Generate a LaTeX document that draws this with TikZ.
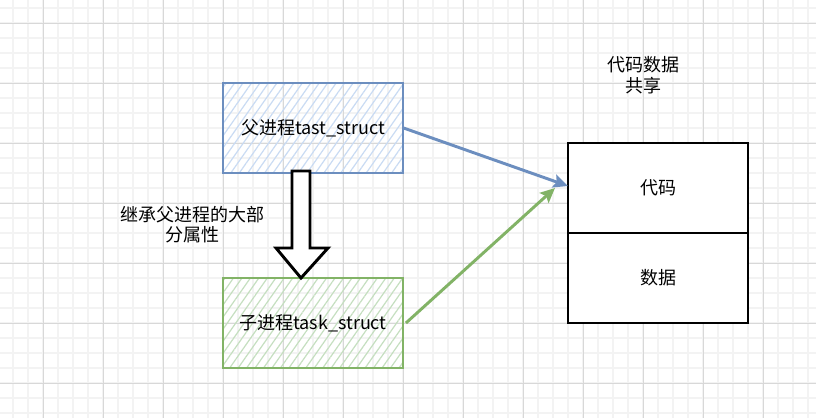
\documentclass[tikz,border=0pt]{standalone}
\usepackage{fontspec}
\setmainfont{Noto Sans CJK SC}
\usetikzlibrary{patterns.meta,arrows.meta}
\definecolor{gridminor}{HTML}{F3F3F3}
\definecolor{gridmajor}{HTML}{D8D8D8}
\definecolor{blueline}{HTML}{6C8EBF}
\definecolor{bluehatch}{HTML}{C9DBF3}
\definecolor{greenline}{HTML}{82B366}
\definecolor{greenhatch}{HTML}{C5DFC0}
\tikzset{
  minorline/.style={draw=gridminor,line width=1.3pt},
  majorline/.style={draw=gridmajor,line width=0.75pt},
  lbl/.style={font=\fontsize{13.5}{15.5}\selectfont,align=center,inner sep=0pt},
  procbox/.style={minimum width=135pt,minimum height=67.5pt,inner sep=0pt,
    font=\fontsize{13.5}{15.5}\selectfont,line width=1.4pt},
  bluebox/.style={procbox,draw=blueline,
    pattern={Lines[angle=55,distance=5.2pt,line width=0.9pt]},pattern color=bluehatch},
  greenbox/.style={procbox,draw=greenline,
    pattern={Lines[angle=55,distance=5.2pt,line width=0.9pt]},pattern color=greenhatch},
  cell/.style={draw=black,fill=white,line width=1.5pt,minimum width=135pt,
    minimum height=67.5pt,inner sep=0pt,font=\fontsize{13.5}{15.5}\selectfont},
  bluearrow/.style={draw=blueline,line width=2.2pt,-{Stealth[length=11pt,width=10pt,inset=2pt]}},
  greenarrow/.style={draw=greenline,line width=2.2pt,-{Stealth[length=11pt,width=10pt,inset=2pt]}},
  hollow/.style={draw=black,fill=white,line width=2.2pt,line join=miter},
}
\begin{document}
\begin{tikzpicture}[x=0.75pt,y=-0.75pt]
\fill[white] (0,0) rectangle (816,418);
\useasboundingbox (0,0) rectangle (816,418);
% grid
\foreach \i in {0,...,54} {
  \draw[minorline] ({13.333+15*\i},0) -- ++(0,418);
}
\foreach \j in {0,...,27} {
  \draw[minorline] (0,{8.333+15*\j}) -- ++(816,0);
}
\foreach \i in {0,...,13} {
  \draw[majorline] ({43.333+60*\i},0) -- ++(0,418);
}
\foreach \j in {0,...,6} {
  \draw[majorline] (0,{23.333+60*\j}) -- ++(816,0);
}
% process boxes
\node[bluebox] (parent) at (313,128) {父进程tast\_struct};
\node[greenbox] (child) at (313,323) {子进程task\_struct};
% shared table
\node[cell] (code) at (658,188) {代码};
\node[cell] (data) at (658,278) {数据};
% labels
\node[lbl] (inherit) at (192,224.5) {继承父进程的大部\\分属性};
\node[lbl] (share) at (643,75) {代码数据\\共享};
% hollow inheritance arrow
\draw[hollow] (292,171) -- (310,171) -- (310,248) -- (328,248) -- (301,278)
  -- (276,248) -- (292,248) -- cycle;
% connectors
\coordinate (tgtB) at (568,186);
\coordinate (tgtG) at (555,188);
\draw[bluearrow] (parent.east) -- (tgtB);
\draw[greenarrow] ([xshift=1.5pt]child.east) -- (tgtG);
\end{tikzpicture}
\end{document}
